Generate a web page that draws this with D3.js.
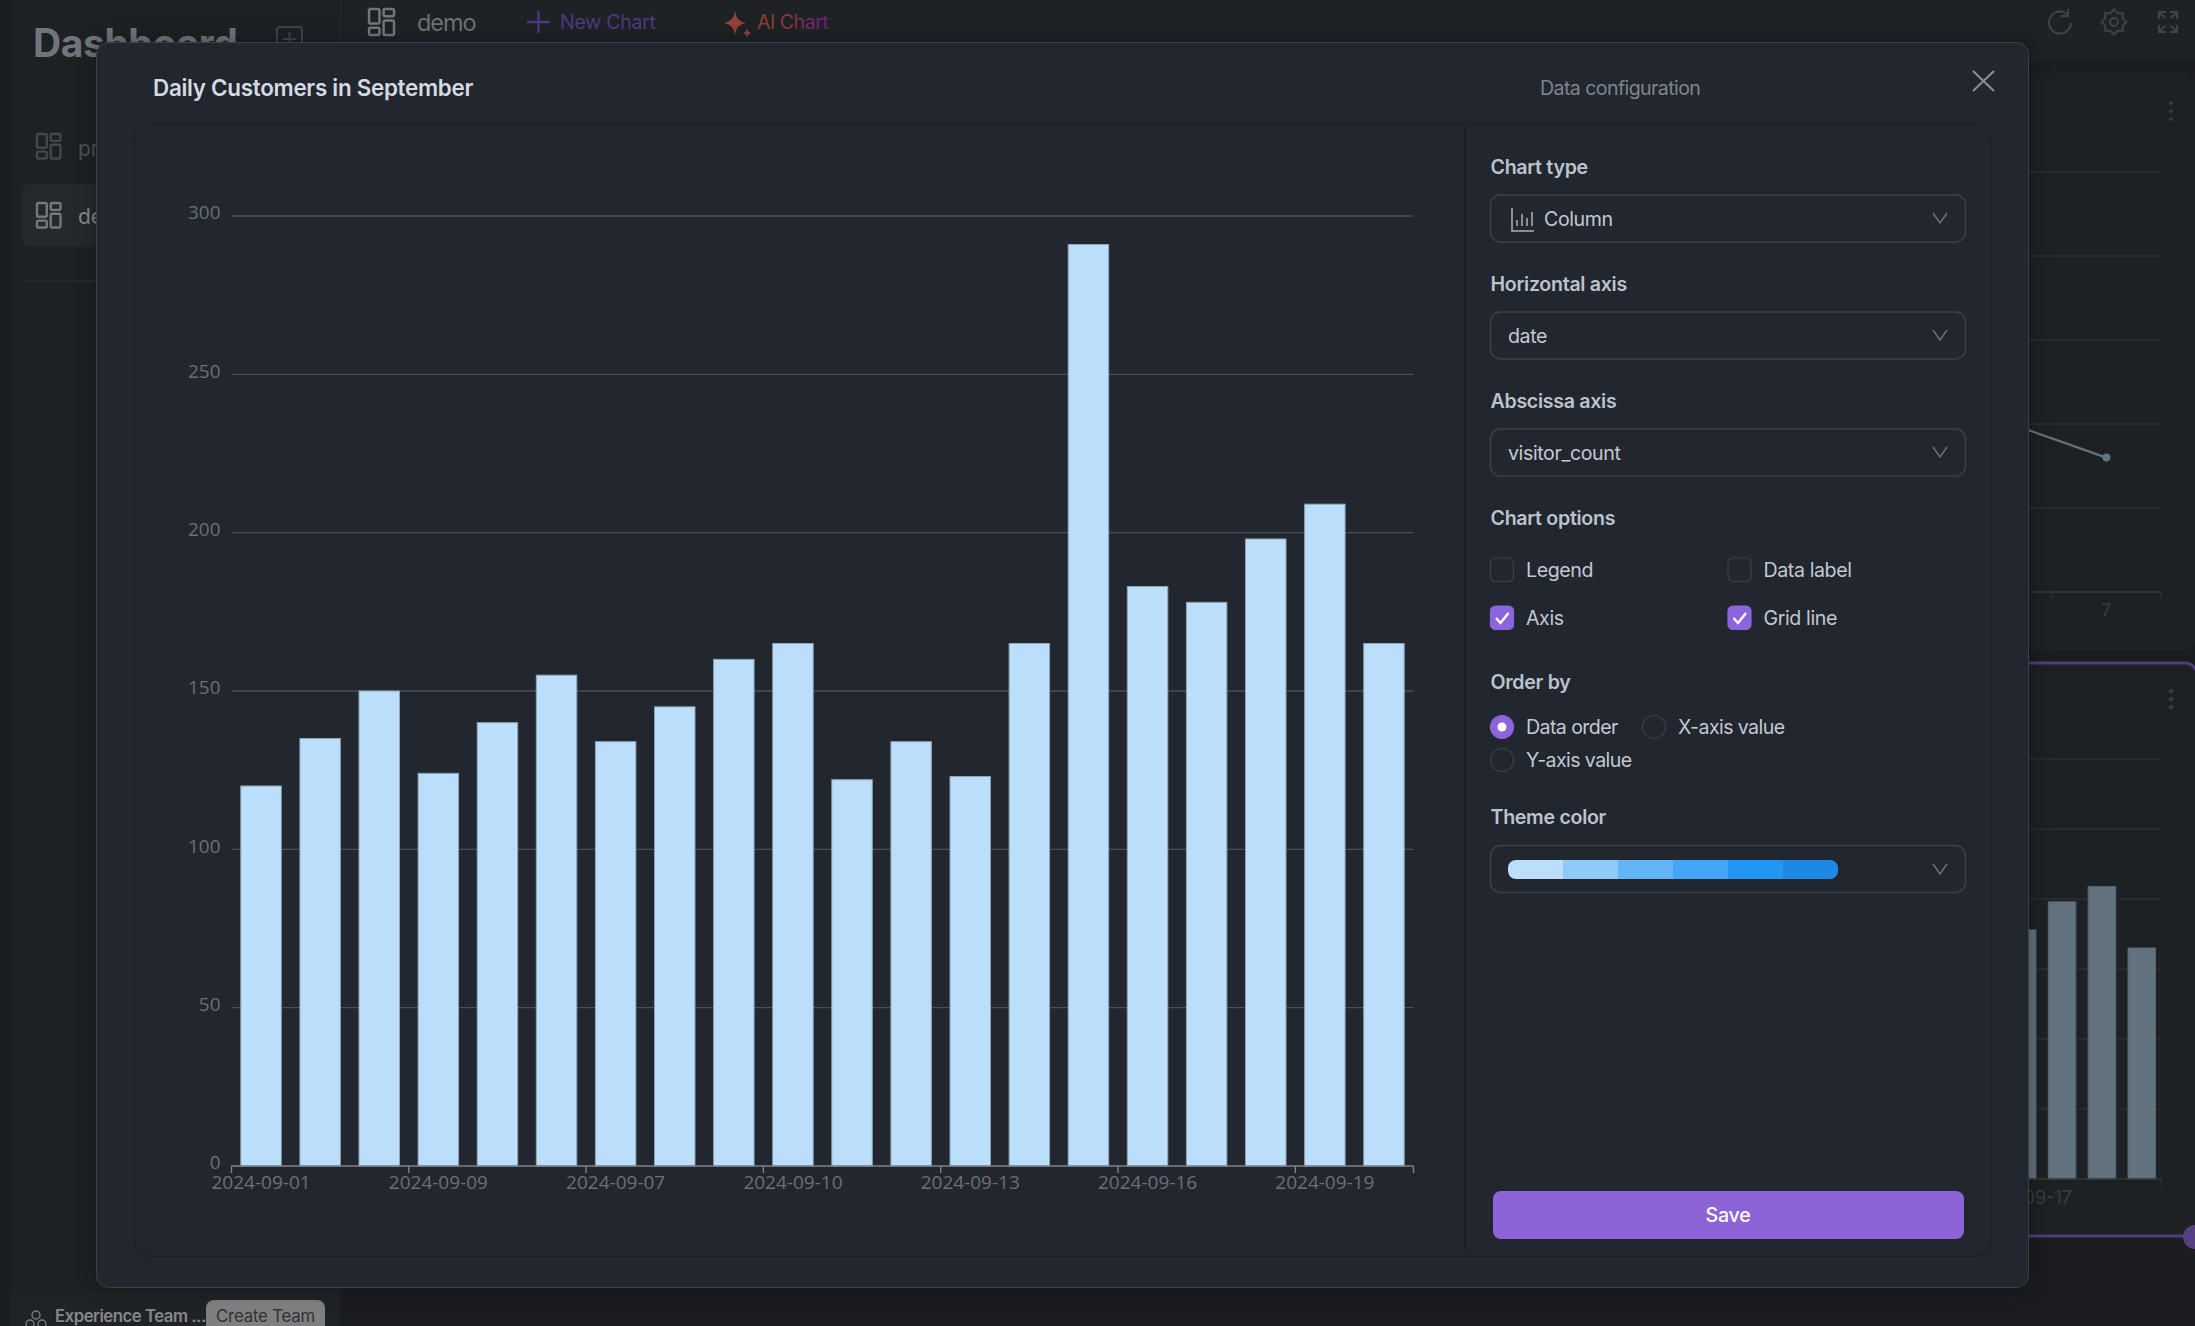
<!DOCTYPE html>
<html lang="en">
<head>
<meta charset="UTF-8">
<title>Daily Customers in September</title>
<script src="https://d3js.org/d3.v7.min.js"></script>
<style>
    html, body { margin: 0; padding: 0; background: #1a1c1f; overflow: hidden; }
    svg { display: block; }
    text { font-family: Inter, "Noto Sans", sans-serif; }
    .axis-text text { font-family: "Open Sans", Roboto, sans-serif; }
    .label { font-size: 19.6px; font-weight: 600; fill: #bcc3ce; letter-spacing: -0.3px; dominant-baseline: central; }
    .value { font-size: 19.6px; fill: #c3c9d2; letter-spacing: -0.4px; dominant-baseline: central; }
</style>
</head>
<body>
<svg id="chart" width="2195" height="1326"></svg>
<script>
// chart values
const dates = ["2024-09-01", "2024-09-02", "2024-09-03", "2024-09-09", "2024-09-05", "2024-09-06", "2024-09-07",
    "2024-09-08", "2024-09-04", "2024-09-10", "2024-09-11", "2024-09-12", "2024-09-13", "2024-09-14", "2024-09-15",
    "2024-09-16", "2024-09-17", "2024-09-18", "2024-09-19", "2024-09-20"];
const visitorCount = [120, 135, 150, 124, 140, 155, 134, 145, 160, 165, 122, 134, 123, 165, 291, 183, 178, 198, 209, 165];
const yTicks = [0, 50, 100, 150, 200, 250, 300];
const xTickDates = ["2024-09-01", "2024-09-09", "2024-09-07", "2024-09-10", "2024-09-13", "2024-09-16", "2024-09-19"];

// line card behind the modal
const bgLineDays = ["6", "7"];
const bgLineValues = [103, 80];
const bgLineTicks = [0, 50, 100, 150, 200, 250];

// panel content
const themeColors = ["#bbdefb", "#90caf9", "#64b5f6", "#42a5f5", "#2196f3", "#1e88e5"];
const selects = [
    { label: "Chart type", value: "Column", y: 167 },
    { label: "Horizontal axis", value: "date", y: 284 },
    { label: "Abscissa axis", value: "visitor_count", y: 401 }
];
const checks = [
    { label: "Legend", col: 0, row: 0, on: false },
    { label: "Data label", col: 1, row: 0, on: false },
    { label: "Axis", col: 0, row: 1, on: true },
    { label: "Grid line", col: 1, row: 1, on: true }
];
const radios = [
    { label: "Data order", cx: 1502, cy: 727, on: true },
    { label: "X-axis value", cx: 1654, cy: 727, on: false },
    { label: "Y-axis value", cx: 1502, cy: 760, on: false }
];

const svg = d3.select("#chart");
const defs = svg.append("defs");

const aiGrad = defs.append("linearGradient").attr("id", "aiGrad")
    .attr("gradientUnits", "userSpaceOnUse").attr("x1", 722).attr("x2", 830).attr("y1", 0).attr("y2", 0);
aiGrad.append("stop").attr("offset", 0).attr("stop-color", "#96423a");
aiGrad.append("stop").attr("offset", 0.55).attr("stop-color", "#8a3d30");
aiGrad.append("stop").attr("offset", 1).attr("stop-color", "#6c1a8c");

const barClip = defs.append("clipPath").attr("id", "swatchClip");
barClip.append("rect").attr("x", 1508).attr("y", 860).attr("width", 330).attr("height", 19).attr("rx", 8);

function box(parent, x, y, w, h, r, fill, stroke) {
    return parent.append("rect").attr("x", x).attr("y", y).attr("width", w).attr("height", h)
        .attr("rx", r || 0).attr("fill", fill || "none").attr("stroke", stroke || "none");
}

function label(parent, x, y, str, size, color, weight, spacing) {
    return parent.append("text").attr("x", x).attr("y", y).text(str)
        .attr("font-size", size).attr("fill", color).attr("font-weight", weight || 400)
        .attr("letter-spacing", spacing || 0).attr("dominant-baseline", "central");
}

// the four-rect dashboard icon
function gridIcon(parent, x, y, s, color) {
    const g = parent.append("g").attr("transform", `translate(${x},${y}) scale(${s})`)
        .attr("fill", "none").attr("stroke", color).attr("stroke-width", 2.4);
    [[1, 1, 10, 14], [1, 19, 10, 7], [15, 1, 10, 7], [15, 12, 10, 14]].forEach(r => {
        g.append("rect").attr("x", r[0]).attr("y", r[1]).attr("width", r[2]).attr("height", r[3]).attr("rx", 1.5);
    });
}

function chevron(parent, cx, cy, color) {
    parent.append("path").attr("d", `M${cx - 7},${cy - 5}L${cx},${cy + 5}L${cx + 7},${cy - 5}`)
        .attr("fill", "none").attr("stroke", color).attr("stroke-width", 1.5);
}

// ---------- page behind the modal ----------
const page = svg.append("g");
box(page, 0, 0, 2195, 1326, 0, "#1a1c1f");
box(page, 0, 0, 10, 1326, 0, "#1b1e20");
box(page, 10, 0, 330, 1292, 0, "#1e2123");
box(page, 10, 1292, 330, 34, 0, "#202325");
page.append("line").attr("x1", 340.5).attr("x2", 340.5).attr("y1", 0).attr("y2", 1292).attr("stroke", "#26292b").attr("stroke-width", 1);
box(page, 341, 0, 1854, 61, 0, "#1e2224");
box(page, 341, 61, 1854, 12, 0, "#1b1d1f");

label(page, 33, 42, "Dashboard", 39, "#71757b", 700, -0.4);
box(page, 277, 27, 25, 25, 3, "none", "#404346").attr("stroke-width", 2);
page.append("path").attr("d", "M289.5,32V46M282.5,39H296.5").attr("stroke", "#404346").attr("stroke-width", 2);

gridIcon(page, 36, 133, 0.98, "#45484b");
label(page, 78, 148, "project", 21, "#4c4f52");
box(page, 22, 184, 120, 63, 8, "#26292b");
gridIcon(page, 36, 202, 0.98, "#75797c");
label(page, 78, 216, "demo", 21, "#85888b");
page.append("line").attr("x1", 22).attr("x2", 330).attr("y1", 281).attr("y2", 281).attr("stroke", "#2a2d2f").attr("stroke-width", 1.5);

gridIcon(page, 368, 8, 1.04, "#72767a");
label(page, 417, 22, "demo", 23.5, "#6e7276", 400, -1.1);
page.append("path").attr("d", "M538.5,11V33M527,22H550").attr("stroke", "#4b3a7c").attr("stroke-width", 2.4);
label(page, 560, 22, "New Chart", 19.6, "#4b3b80", 400, -0.3);
page.append("path").attr("d", "M735,10C736,18 738,21 746,23C738,25 736,28 735,36C734,28 732,25 724,23C732,21 734,18 735,10Z M747,28C747.5,31 748.5,32 751,33C748.5,34 747.5,35 747,38C746.5,35 745.5,34 743,33C745.5,32 746.5,31 747,28Z")
    .attr("fill", "url(#aiGrad)");
label(page, 757, 22, "AI Chart", 19.6, "url(#aiGrad)", 400, -0.5);

// header icons
const headIcons = page.append("g").attr("fill", "none").attr("stroke", "#3f4346").attr("stroke-width", 2);
headIcons.append("path").attr("d", "M2068,15A11,11 0 1 0 2071,23M2068,9V16H2061");
const gearPts = d3.range(16).map(i => [i * Math.PI / 8, i % 2 ? 9.5 : 12.5]);
headIcons.append("path").attr("transform", "translate(2114,22)")
    .attr("d", d3.lineRadial().curve(d3.curveLinearClosed)(gearPts));
headIcons.append("circle").attr("cx", 2114).attr("cy", 22).attr("r", 4);
headIcons.append("path").attr("d", "M2159,19V12H2166M2159,12L2165,18M2177,19V12H2170M2177,12L2171,18M2159,25V32H2166M2159,32L2165,26M2177,25V32H2170M2177,32L2171,26");

// top card with the line chart
box(page, 1300, 73, 897, 577, 12, "#1d2124");
const lineY = d3.scaleLinear().domain([0, 300]).range([592, 88]);
page.append("g").selectAll("line").data(bgLineTicks.slice(1)).join("line")
    .attr("x1", 1400).attr("x2", 2161).attr("y1", d => lineY(d)).attr("y2", d => lineY(d))
    .attr("stroke", "#2c2f32").attr("stroke-width", 1.5);
const lineX = d3.scalePoint().domain(bgLineDays).range([1997, 2106.4]);
page.append("path").datum(bgLineValues)
    .attr("d", d3.line().x((d, i) => lineX(bgLineDays[i])).y(d => lineY(d)))
    .attr("fill", "none").attr("stroke", "#62737f").attr("stroke-width", 2.2);
page.append("circle").attr("cx", lineX("7")).attr("cy", lineY(bgLineValues[1])).attr("r", 4).attr("fill", "#62737f");
page.append("line").attr("x1", 1400).attr("x2", 2161).attr("y1", 592).attr("y2", 592).attr("stroke", "#33363a").attr("stroke-width", 1.5);
[2051.6, 2161].forEach(x => page.append("line").attr("x1", x).attr("x2", x).attr("y1", 592).attr("y2", 598).attr("stroke", "#33363a"));
label(page, 2101, 610, "7", 18, "#3a3d40").attr("class", "axis-text");
[103, 111, 119].forEach(y => page.append("circle").attr("cx", 2171).attr("cy", y).attr("r", 2).attr("fill", "#3a3d42"));

// lower card, same numbers in a smaller column chart
box(page, 1300, 663, 897, 573, 12, "#1d2124", "#4f3d7c").attr("stroke-width", 3);
const smallX = d3.scaleBand().domain(dates).range([1364.7, 2161.7]).paddingInner(0.31).paddingOuter(0.155);
const smallY = d3.scaleLinear().domain([0, 300]).range([1179, 759]);
page.append("g").selectAll("line").data(yTicks.slice(1)).join("line")
    .attr("x1", 1364).attr("x2", 2161.7).attr("y1", d => smallY(d)).attr("y2", d => smallY(d))
    .attr("stroke", "#2c2f32").attr("stroke-width", 1.5);
page.append("g").selectAll("rect").data(visitorCount).join("rect")
    .attr("x", (d, i) => smallX(dates[i])).attr("width", smallX.bandwidth())
    .attr("y", d => smallY(d)).attr("height", d => smallY(0) - smallY(d))
    .attr("fill", "#62737f").attr("stroke", "#556570");
page.append("line").attr("x1", 1364).attr("x2", 2161.7).attr("y1", 1179).attr("y2", 1179).attr("stroke", "#33363a").attr("stroke-width", 1.5);
page.append("line").attr("x1", 2161).attr("x2", 2161).attr("y1", 1179).attr("y2", 1186).attr("stroke", "#33363a");
label(page, 2072, 1197, "2024-09-17", 18, "#3a3d40").attr("text-anchor", "end").attr("font-family", "Open Sans");
[691, 699, 707].forEach(y => page.append("circle").attr("cx", 2171).attr("cy", y).attr("r", 2.2).attr("fill", "#3a3d42"));
page.append("circle").attr("cx", 2195).attr("cy", 1237).attr("r", 12).attr("fill", "#574080");

// sidebar footer
const team = page.append("g").attr("fill", "none").attr("stroke", "#7a7d80").attr("stroke-width", 1.4);
team.append("circle").attr("cx", 36).attr("cy", 1315).attr("r", 4);
team.append("circle").attr("cx", 30).attr("cy", 1324).attr("r", 4);
team.append("circle").attr("cx", 42).attr("cy", 1324).attr("r", 4);
label(page, 55, 1316, "Experience Team ...", 16.8, "#85888b", 600, -0.5);
box(page, 206, 1300, 119, 50, 8, "#7f7f7f");
label(page, 265.5, 1316, "Create Team", 16.8, "#2f3134", 400, -0.2).attr("text-anchor", "middle");

// ---------- modal ----------
const modal = svg.append("g");
box(modal, 96.5, 42.5, 1932, 1245, 12, "#22262e", "#3a3f48")
    .style("filter", "drop-shadow(0 0 10px rgba(0,0,0,0.35))");
label(modal, 153, 87, "Daily Customers in September", 22.4, "#d5dae2", 600, -0.28);
label(modal, 1540, 88, "Data configuration", 19.6, "#7e858f", 400, -0.6);
modal.append("path").attr("d", "M1973,71L1994,91M1994,71L1973,91").attr("stroke", "#8b9097").attr("stroke-width", 2);
box(modal, 134.5, 124.5, 1856.5, 1132, 16, "none", "#1a1e24");
modal.append("line").attr("x1", 1465).attr("x2", 1465).attr("y1", 125).attr("y2", 1251).attr("stroke", "#1a1e24").attr("stroke-width", 1.5);

// ---------- column chart ----------
const plot = { left: 231.5, right: 1413.5, top: 216, bottom: 1166 };
const x = d3.scaleBand().domain(dates).range([plot.left, plot.right]).paddingInner(0.315).paddingOuter(0.1575);
const xEdges = d3.scaleBand().domain(dates).range([plot.left, plot.right]);
const y = d3.scaleLinear().domain([0, 300]).range([plot.bottom, plot.top]);

const grid = modal.append("g");
grid.selectAll("line").data(yTicks.slice(1)).join("line")
    .attr("x1", plot.left).attr("x2", plot.right).attr("y1", d => y(d)).attr("y2", d => y(d))
    .attr("stroke", "#4a4f57").attr("stroke-width", 1.4);

modal.append("g").selectAll("rect").data(visitorCount).join("rect")
    .attr("x", (d, i) => x(dates[i])).attr("width", x.bandwidth())
    .attr("y", d => y(d)).attr("height", d => y(0) - y(d))
    .attr("fill", "#bbdefb").attr("stroke", "#8fa3b5").attr("stroke-width", 1);

const yAxis = modal.append("g").attr("class", "axis-text").attr("transform", `translate(${plot.left},0)`)
    .call(d3.axisLeft(y).tickValues(yTicks).tickSize(0).tickPadding(11));
yAxis.select(".domain").remove();
yAxis.selectAll("text").attr("font-size", 19).attr("fill", "#6b7078").attr("dy", "0.14em");

const xAxis = modal.append("g").attr("class", "axis-text").attr("transform", `translate(0,${plot.bottom})`)
    .call(d3.axisBottom(x).tickValues(xTickDates).tickSize(0).tickPadding(10));
xAxis.select(".domain").remove();
xAxis.selectAll("text").attr("font-size", 19).attr("fill", "#6b7078");

// tick marks sit on the band edges, every third band, plus the closing one
const tickEdges = xTickDates.map(d => xEdges(d)).concat([plot.right]);
modal.append("g").selectAll("line").data(tickEdges).join("line")
    .attr("x1", d => d).attr("x2", d => d).attr("y1", plot.bottom).attr("y2", plot.bottom + 7)
    .attr("stroke", "#7e838b").attr("stroke-width", 1.4);
modal.append("line").attr("x1", plot.left).attr("x2", plot.right).attr("y1", plot.bottom).attr("y2", plot.bottom)
    .attr("stroke", "#7e838b").attr("stroke-width", 1.4);

// ---------- config panel ----------
const panel = modal.append("g");
selects.forEach(s => {
    panel.append("text").attr("class", "label").attr("x", 1490.5).attr("y", s.y).text(s.label);
    box(panel, 1490.5, s.y + 28, 475, 47, 10, "none", "#3b404a").attr("stroke-width", 1.4);
    panel.append("text").attr("class", "value").attr("x", s.value === "Column" ? 1544 : 1508).attr("y", s.y + 52).text(s.value);
    chevron(panel, 1940, s.y + 51, "#6b717a");
});
// column icon in the first select
panel.append("path").attr("d", "M1512,208V231H1534M1517,226V220M1522,226V214M1527,226V218M1532,226V212")
    .attr("fill", "none").attr("stroke", "#aab1bb").attr("stroke-width", 1.5);

panel.append("text").attr("class", "label").attr("x", 1490.5).attr("y", 518).text("Chart options");
checks.forEach(c => {
    const bx = c.col ? 1728 : 1490.5, by = c.row ? 606 : 558;
    box(panel, bx, by, 23, 23.5, 5, c.on ? "#8c64dc" : "none", c.on ? "#8c64dc" : "#3b404a").attr("stroke-width", 1.2);
    if (c.on) {
        panel.append("path").attr("d", `M${bx + 5.5},${by + 12}L${bx + 10},${by + 17}L${bx + 18},${by + 7}`)
            .attr("fill", "none").attr("stroke", "#fff").attr("stroke-width", 2.4);
    }
    panel.append("text").attr("class", "value").attr("x", bx + 35.5).attr("y", by + 12).text(c.label);
});

panel.append("text").attr("class", "label").attr("x", 1490.5).attr("y", 682).text("Order by");
radios.forEach(r => {
    panel.append("circle").attr("cx", r.cx).attr("cy", r.cy).attr("r", 11.5)
        .attr("fill", r.on ? "#8c64dc" : "none").attr("stroke", r.on ? "#8c64dc" : "#3b404a").attr("stroke-width", 1.2);
    if (r.on) panel.append("circle").attr("cx", r.cx).attr("cy", r.cy).attr("r", 4.5).attr("fill", "#fff");
    panel.append("text").attr("class", "value").attr("x", r.cx + 24).attr("y", r.cy).style("letter-spacing", "-0.6px").text(r.label);
});

panel.append("text").attr("class", "label").attr("x", 1490.5).attr("y", 817).text("Theme color");
box(panel, 1490.5, 845.5, 475, 47, 10, "none", "#3b404a").attr("stroke-width", 1.4);
const swatchX = d3.scaleBand().domain(themeColors).range([1508, 1838]);
panel.append("g").attr("clip-path", "url(#swatchClip)").selectAll("rect").data(themeColors).join("rect")
    .attr("x", d => swatchX(d)).attr("width", swatchX.bandwidth()).attr("y", 860).attr("height", 19)
    .attr("fill", d => d);
chevron(panel, 1940, 869, "#6b717a");

box(panel, 1493, 1191, 471, 48, 8, "#8c64d8");
label(panel, 1728, 1215, "Save", 19.6, "#ffffff", 500, -0.2).attr("text-anchor", "middle");
</script>
</body>
</html>
